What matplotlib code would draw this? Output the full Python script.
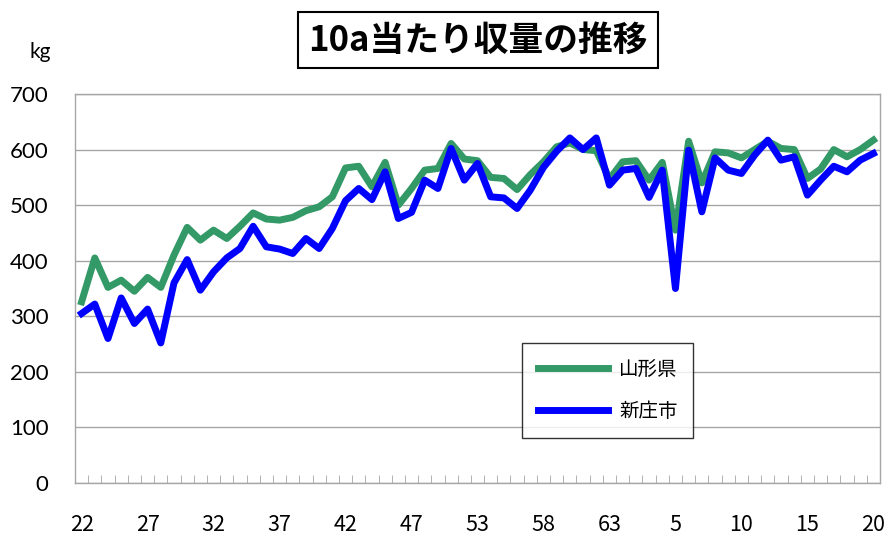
import matplotlib
matplotlib.use("Agg")
import matplotlib.pyplot as plt
import numpy as np

# 10a yield (kg), Showa 22 .. Heisei 20
yamagata = [326, 405, 352, 365, 345, 370, 352, 410, 460, 437,
            455, 440, 462, 486, 475, 473, 478, 490, 497, 515,
            567, 570, 533, 577, 500, 530, 563, 566, 611, 583,
            580, 550, 548, 528, 555, 578, 605, 612, 600, 598,
            547, 578, 580, 545, 577, 455, 615, 540, 596, 594,
            585, 600, 615, 602, 600, 548, 565, 600, 587, 600, 617]
shinjo = [305, 322, 260, 333, 287, 313, 252, 360, 402, 347,
          380, 405, 422, 462, 425, 421, 413, 440, 422, 458,
          508, 530, 510, 560, 476, 487, 545, 530, 602, 545,
          575, 515, 513, 494, 527, 568, 597, 621, 600, 621,
          536, 563, 566, 514, 563, 350, 599, 488, 585, 563,
          557, 590, 617, 581, 587, 518, 545, 570, 560, 581, 593]
tick_labels = ["22", "27", "32", "37", "42", "47", "53", "58", "63",
               "5", "10", "15", "20"]
series_names = ["山形県", "新庄市"]

jp = ["Noto Sans CJK JP", "DejaVu Sans"]

fig = plt.figure(figsize=(8.95, 5.38), dpi=100)
ax = fig.add_axes([75 / 895, 1 - 483 / 538, 805 / 895, 389 / 538])

x = np.arange(len(yamagata))
ax.plot(x, yamagata, color="#339966", lw=5, label=series_names[0],
        solid_joinstyle="round", zorder=3)
ax.plot(x, shinjo, color="#0000ff", lw=5, label=series_names[1],
        solid_joinstyle="round", zorder=4)

ax.set_xlim(-0.5, len(x) - 0.5)
ax.set_ylim(0, 700)
ax.set_yticks(range(0, 701, 100))
ax.yaxis.grid(True, color="#a6a6a6", lw=1)
ax.set_axisbelow(True)

for s in ax.spines.values():
    s.set_color("#a6a6a6")
    s.set_linewidth(1)

ax.set_xticks(range(0, len(x), 5))
ax.set_xticklabels(tick_labels, family=jp, fontsize=15.5)
ax.set_xticks(np.arange(-0.5, len(x)), minor=True)
ax.tick_params(axis="x", which="major", length=0, pad=22)
ax.tick_params(axis="x", which="minor", direction="in", length=6,
               color="#a6a6a6")
ax.tick_params(axis="y", length=0, pad=19, labelsize=16)
for t in ax.get_yticklabels():
    t.set_family("Lato")

fig.text(40 / 895, 1 - 52 / 538, "kg", family="Lato", fontsize=15,
         ha="center", va="center")

fig.text(478 / 895, 1 - 40 / 538, "10a当たり収量の推移", family=jp,
         fontsize=25, fontweight="bold", ha="center", va="center",
         bbox=dict(boxstyle="square,pad=0.3", fc="white", ec="black", lw=1.5))

leg = ax.legend(loc="upper left", bbox_to_anchor=(447 / 805, 140 / 389),
                prop={"family": jp, "size": 14}, fancybox=False,
                edgecolor="black", handlelength=3.6, labelspacing=1.1,
                borderpad=0.8, handletextpad=0.6, borderaxespad=0)
leg.get_frame().set_linewidth(1)

fig.savefig("out.png", dpi=100)
